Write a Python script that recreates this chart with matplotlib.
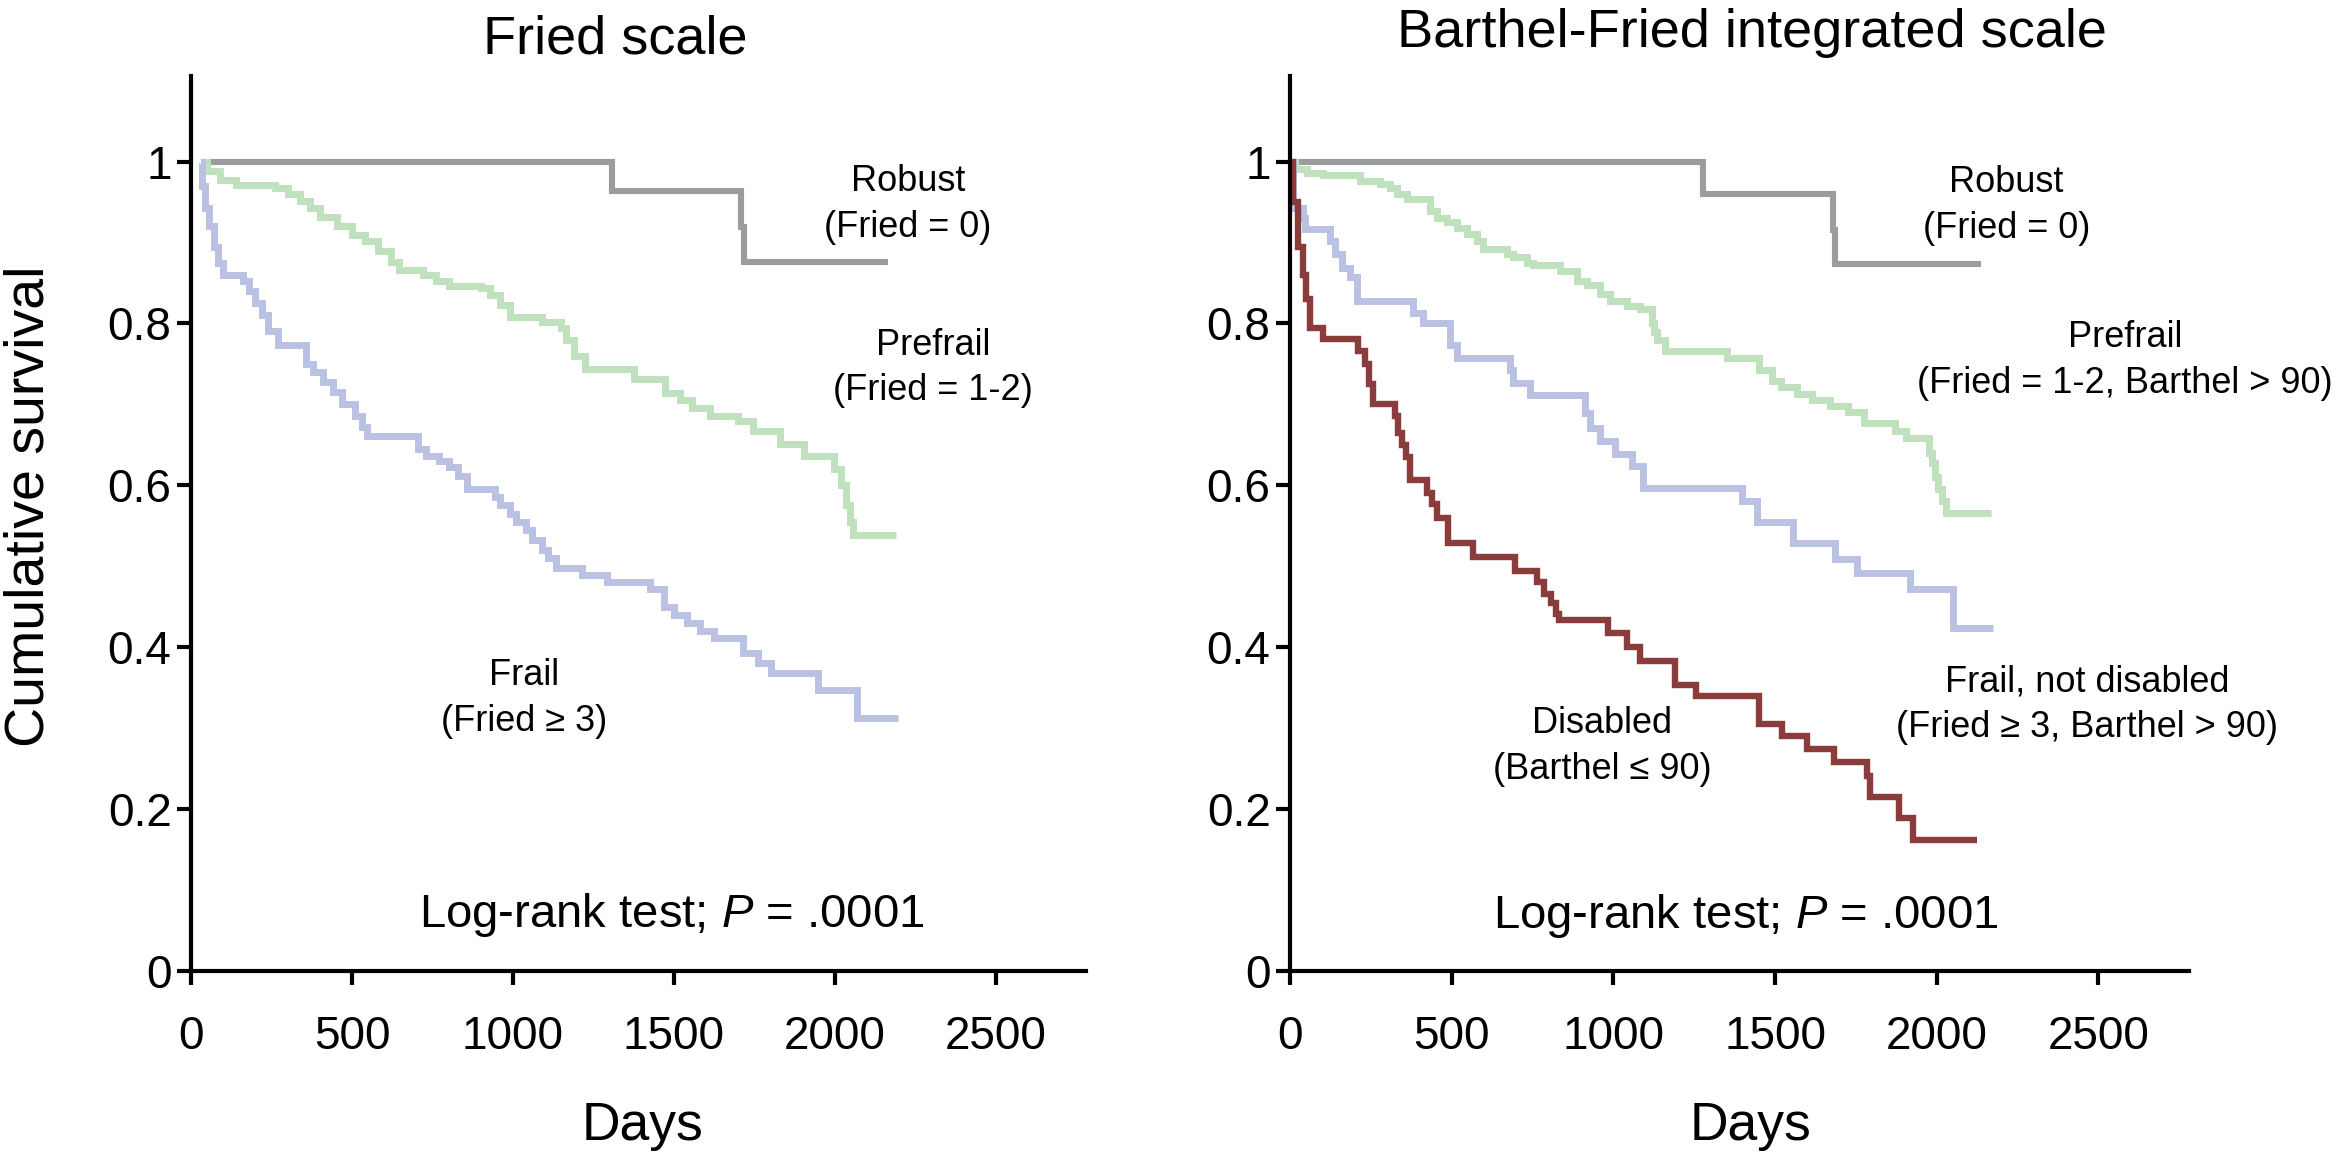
import matplotlib.pyplot as plt

plt.rcParams['font.family'] = ['Liberation Sans', 'DejaVu Sans']
plt.rcParams['mathtext.fontset'] = 'custom'
plt.rcParams['mathtext.rm'] = 'Liberation Sans'
plt.rcParams['mathtext.it'] = 'Liberation Sans:italic'

# ---- Fried scale (left panel) ----
f_robust_days = [30, 1307, 1707, 1719, 2164]
f_robust_surv = [1.0, 0.964, 0.919, 0.876, 0.876]

f_prefrail_days = [30, 50, 90, 140, 260, 300, 340, 370, 400, 455, 500, 540, 580, 620, 645,
                   720, 760, 800, 900, 930, 960, 990, 1090, 1150, 1165, 1190, 1225, 1375,
                   1471, 1520, 1555, 1611, 1700, 1747, 1831, 1903, 1998, 2020, 2035, 2048,
                   2055, 2191]
f_prefrail_surv = [1.0, 0.988, 0.978, 0.971, 0.967, 0.960, 0.952, 0.943, 0.932, 0.921, 0.910,
                   0.902, 0.890, 0.876, 0.866, 0.860, 0.852, 0.846, 0.844, 0.835, 0.823, 0.808,
                   0.802, 0.794, 0.780, 0.760, 0.744, 0.731, 0.714, 0.705, 0.695, 0.685, 0.680,
                   0.667, 0.651, 0.636, 0.620, 0.600, 0.575, 0.555, 0.539, 0.539]

f_frail_days = [30, 35, 45, 55, 70, 85, 100, 160, 180, 200, 220, 238, 270, 357, 380, 410, 440,
                470, 510, 531, 547, 706, 730, 770, 800, 830, 856, 943, 960, 990, 1010, 1040,
                1060, 1090, 1110, 1133, 1213, 1291, 1425, 1468, 1500, 1540, 1580, 1624, 1714,
                1760, 1803, 1949, 2068, 2197]
f_frail_surv = [1.0, 0.970, 0.943, 0.920, 0.895, 0.875, 0.860, 0.852, 0.840, 0.825, 0.810,
                0.791, 0.774, 0.750, 0.740, 0.728, 0.715, 0.700, 0.685, 0.672, 0.661, 0.645,
                0.636, 0.630, 0.622, 0.612, 0.595, 0.585, 0.575, 0.565, 0.555, 0.545, 0.532,
                0.520, 0.510, 0.498, 0.489, 0.480, 0.472, 0.449, 0.440, 0.430, 0.420, 0.411,
                0.392, 0.380, 0.368, 0.347, 0.312, 0.312]

# ---- Barthel-Fried integrated scale (right panel) ----
bf_robust_days = [0, 1276, 1678, 1685, 2137]
bf_robust_surv = [1.0, 0.960, 0.915, 0.874, 0.874]

bf_prefrail_days = [0, 15, 52, 102, 216, 278, 309, 330, 361, 433, 454, 485, 516, 547, 578, 598,
                    670, 690, 732, 752, 835, 887, 918, 959, 990, 1041, 1082, 1118, 1125, 1135,
                    1160, 1351, 1450, 1491, 1518, 1568, 1615, 1670, 1725, 1775, 1871, 1905,
                    1975, 1985, 1995, 2005, 2015, 2028, 2168]
bf_prefrail_surv = [1.0, 0.991, 0.986, 0.983, 0.976, 0.973, 0.967, 0.960, 0.954, 0.939, 0.931,
                    0.925, 0.918, 0.911, 0.902, 0.892, 0.886, 0.882, 0.875, 0.872, 0.865, 0.853,
                    0.847, 0.837, 0.828, 0.822, 0.818, 0.800, 0.790, 0.780, 0.766, 0.757, 0.742,
                    0.729, 0.721, 0.713, 0.705, 0.698, 0.690, 0.677, 0.667, 0.659, 0.640, 0.627,
                    0.610, 0.595, 0.580, 0.566, 0.566]

bf_frail_days = [0, 10, 40, 46, 124, 139, 160, 185, 207, 381, 412, 495, 516, 680, 690, 742, 912,
                 928, 959, 1005, 1058, 1092, 1398, 1444, 1555, 1685, 1753, 1917, 2050, 2174]
bf_frail_surv = [1.0, 0.943, 0.931, 0.917, 0.902, 0.886, 0.869, 0.857, 0.828, 0.813, 0.800,
                 0.773, 0.757, 0.742, 0.726, 0.711, 0.689, 0.671, 0.655, 0.639, 0.624, 0.597,
                 0.581, 0.554, 0.528, 0.509, 0.492, 0.472, 0.424, 0.424]

bf_disabled_days = [0, 10, 26, 40, 50, 62, 102, 210, 232, 245, 257, 325, 335, 345, 360, 371, 423,
                    440, 455, 490, 566, 696, 764, 786, 806, 822, 833, 983, 1042, 1082, 1190,
                    1255, 1450, 1522, 1600, 1682, 1785, 1795, 1883, 1926, 2124]
bf_disabled_surv = [1.0, 0.950, 0.894, 0.860, 0.830, 0.795, 0.781, 0.766, 0.750, 0.725, 0.701,
                    0.685, 0.665, 0.650, 0.635, 0.606, 0.590, 0.577, 0.560, 0.528, 0.511, 0.494,
                    0.480, 0.466, 0.454, 0.441, 0.433, 0.417, 0.400, 0.383, 0.353, 0.340, 0.305,
                    0.290, 0.274, 0.258, 0.240, 0.215, 0.189, 0.161, 0.161]

x_ticks = [0, 500, 1000, 1500, 2000, 2500]
y_ticks = [0, 0.2, 0.4, 0.6, 0.8, 1.0]
y_tick_labels = ['0', '0.2', '0.4', '0.6', '0.8', '1']

gray = '#9b9d9d'
green = '#c0e1bd'
blue = '#bac1e2'
darkred = '#8a3b3b'

fig = plt.figure(figsize=(23.43, 11.6), dpi=100)
ax1 = fig.add_axes([0.08152, 0.16336, 0.38199, 0.77112])
ax2 = fig.add_axes([0.55057, 0.16336, 0.38370, 0.77112])


def style(ax):
    ax.set_xlim(0, 2780)
    ax.set_ylim(0, 1.106)
    ax.spines['top'].set_visible(False)
    ax.spines['right'].set_visible(False)
    ax.spines['left'].set_linewidth(3)
    ax.spines['bottom'].set_linewidth(3)
    ax.set_xticks(x_ticks)
    ax.set_yticks(y_ticks)
    ax.set_yticklabels(y_tick_labels)
    ax.tick_params(axis='both', direction='out', length=10, width=3, labelsize=33)
    ax.tick_params(axis='x', pad=22)
    ax.tick_params(axis='y', pad=4)


def km(ax, days, surv, color, lw=4.4):
    ax.step(days, surv, where='post', color=color, lw=lw,
            solid_joinstyle='miter', solid_capstyle='butt')


# left panel
style(ax1)
km(ax1, f_robust_days, f_robust_surv, gray, 4.4)
km(ax1, f_prefrail_days, f_prefrail_surv, green, 5)
km(ax1, f_frail_days, f_frail_surv, blue, 5)
ax1.text(0.474, 1.0246, 'Fried scale', transform=ax1.transAxes, ha='center', va='baseline', fontsize=39)
ax1.set_ylabel('Cumulative survival', fontsize=40, va='center')
ax1.yaxis.set_label_coords(-0.18, 0.519)
ax1.set_xlabel('Days', fontsize=38.5, va='baseline')
ax1.xaxis.set_label_coords(0.505, -0.1895)
ax1.text(2227, 0.947, 'Robust\n(Fried = 0)', ha='center', va='center', fontsize=26, linespacing=1.4)
ax1.text(2305, 0.745, 'Prefrail\n(Fried = 1-2)', ha='center', va='center', fontsize=26, linespacing=1.4)
ax1.text(1036, 0.336, 'Frail\n(Fried \u2265 3)', ha='center', va='center', fontsize=26, linespacing=1.4)
ax1.text(1494, 0.0538, 'Log-rank test; $P$ = .0001', ha='center', va='baseline', fontsize=34)

# right panel
style(ax2)
km(ax2, bf_robust_days, bf_robust_surv, gray, 4.4)
km(ax2, bf_prefrail_days, bf_prefrail_surv, green, 5)
km(ax2, bf_frail_days, bf_frail_surv, blue, 5)
km(ax2, bf_disabled_days, bf_disabled_surv, darkred, 4.6)
ax2.text(0.514, 1.032, 'Barthel-Fried integrated scale', transform=ax2.transAxes, ha='center', va='baseline', fontsize=39)
ax2.set_xlabel('Days', fontsize=38.5, va='baseline')
ax2.xaxis.set_label_coords(0.512, -0.1895)
ax2.text(2216, 0.946, 'Robust\n(Fried = 0)', ha='center', va='center', fontsize=26, linespacing=1.4)
ax2.text(2582, 0.754, 'Prefrail\n(Fried = 1-2, Barthel > 90)', ha='center', va='center', fontsize=26, linespacing=1.4)
ax2.text(2465, 0.329, 'Frail, not disabled\n(Fried \u2265 3, Barthel > 90)', ha='center', va='center', fontsize=26, linespacing=1.4)
ax2.text(965, 0.277, 'Disabled\n(Barthel \u2264 90)', ha='center', va='center', fontsize=26, linespacing=1.4)
ax2.text(1410, 0.0526, 'Log-rank test; $P$ = .0001', ha='center', va='baseline', fontsize=34)

plt.savefig('out.png', dpi=100)
